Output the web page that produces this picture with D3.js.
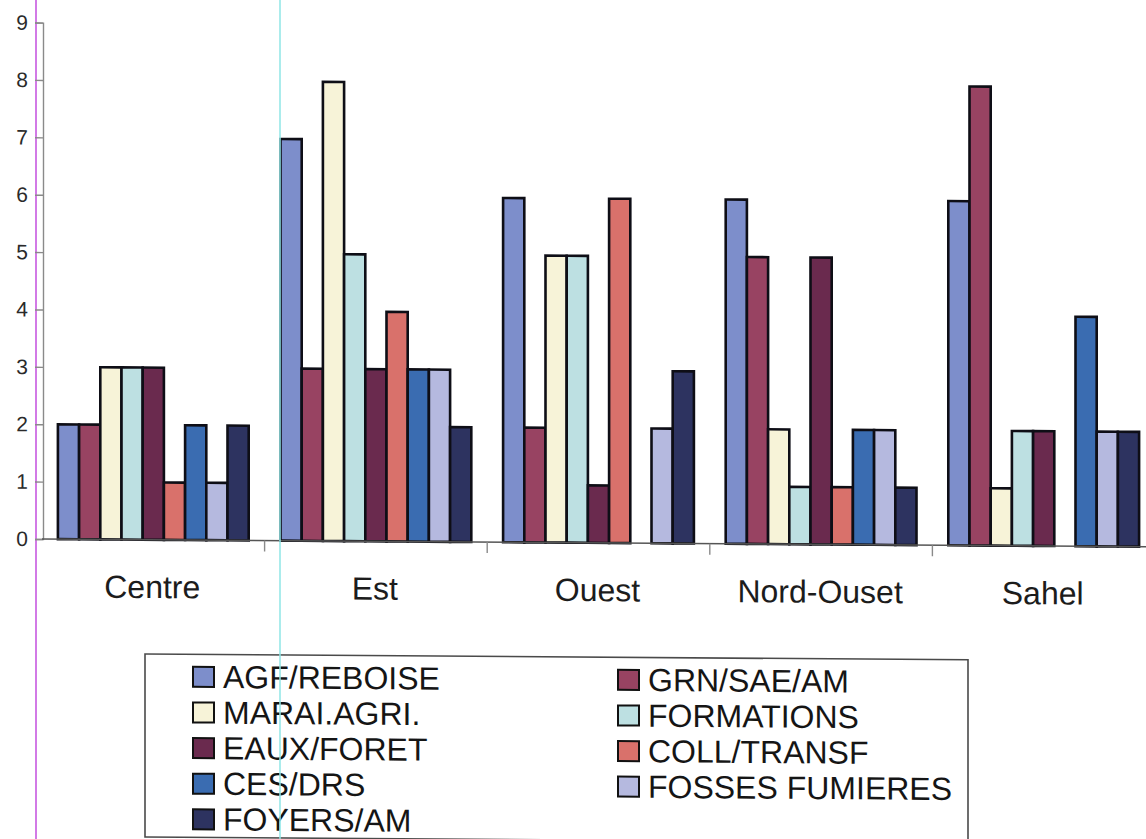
<!DOCTYPE html>
<html>
<head>
<meta charset="utf-8">
<script src="https://cdn.jsdelivr.net/npm/d3@7/dist/d3.min.js"></script>
<style>
  html, body { margin: 0; padding: 0; background: #ffffff; }
  svg { display: block; }
  text { font-family: "Liberation Sans", Arial, sans-serif; }
</style>
</head>
<body>
<svg id="chart" width="1146" height="839"></svg>
<script>
// Regions (x categories)
const categories = ["Centre", "Est", "Ouest", "Nord-Ouset", "Sahel"];

// Activity series, values per region in the order above
const seriesNames = ["AGF/REBOISE", "GRN/SAE/AM", "MARAI.AGRI.", "FORMATIONS", "EAUX/FORET",
                     "COLL/TRANSF", "CES/DRS", "FOSSES FUMIERES", "FOYERS/AM"];
const agfReboise     = [2, 7, 6, 6, 6];
const grnSaeAm       = [2, 3, 2, 5, 8];
const maraiAgri      = [3, 8, 5, 2, 1];
const formations     = [3, 5, 5, 1, 2];
const eauxForet      = [3, 3, 1, 5, 2];
const collTransf     = [1, 4, 6, 1, 0];
const cesDrs         = [2, 3, 0, 2, 4];
const fossesFumieres = [1, 3, 2, 2, 2];
const foyersAm       = [2, 2, 3, 1, 2];

const yTicks = [0, 1, 2, 3, 4, 5, 6, 7, 8, 9];

const seriesValues = [agfReboise, grnSaeAm, maraiAgri, formations, eauxForet,
                      collTransf, cesDrs, fossesFumieres, foyersAm];
const seriesColors = ["#7d8ecb", "#984362", "#f7f3d8", "#bde0e2", "#6a2a4e",
                      "#d9716b", "#3a6cb1", "#b5b9df", "#2d3360"];

const rows = [];
categories.forEach((c, ci) => {
  seriesNames.forEach((s, si) => {
    rows.push({ category: c, series: s, value: seriesValues[si][ci], color: seriesColors[si] });
  });
});

const svg = d3.select("#chart");

// page guide lines
svg.append("line").attr("x1", 36).attr("x2", 36).attr("y1", 0).attr("y2", 839)
  .attr("stroke", "#d27ae6").attr("stroke-width", 2);

// whole chart sits on a slightly tilted sheet
const g = svg.append("g").attr("transform", "skewY(0.4)");

const plotLeft = 42, step = 222.6;
const x0 = d3.scaleBand().domain(categories).range([plotLeft, plotLeft + step * categories.length]).padding(0);
const barW = x0.bandwidth() / 10.5;
const x1 = d3.scaleBand().domain(seriesNames)
  .range([barW * 0.75, x0.bandwidth() - barW * 0.75]).padding(0);
const y = d3.scaleLinear().domain([0, 9]).range([538.7, 22.3]);

// bars
g.append("g").selectAll("rect")
  .data(rows.filter(d => d.value > 0))
  .join("rect")
  .attr("x", d => x0(d.category) + x1(d.series))
  .attr("y", d => y(d.value))
  .attr("width", x1.bandwidth())
  .attr("height", d => y(0) - y(d.value))
  .attr("fill", d => d.color)
  .attr("stroke", "#0e0e16")
  .attr("stroke-width", 2.6);

// y axis
const yAxis = g.append("g").attr("transform", "translate(43,0)")
  .call(d3.axisLeft(y).tickValues(yTicks).tickFormat(d3.format("d")).tickSize(8).tickPadding(7));
yAxis.select(".domain").attr("stroke", "#8a8a8a").attr("stroke-width", 1.4);
yAxis.selectAll(".tick line").attr("stroke", "#8a8a8a").attr("stroke-width", 1.4);
yAxis.selectAll(".tick text").attr("font-size", 21).attr("fill", "#2a2a2a")
  .attr("font-family", "'Liberation Sans', Arial, sans-serif");

// x axis
const xTickPositions = categories.slice(1).map(c => x0(c));
const xAxisG = g.append("g").attr("transform", `translate(0,${y(0)})`);
xAxisG.append("line").attr("x1", plotLeft).attr("x2", 1160).attr("y1", 0).attr("y2", 0)
  .attr("stroke", "#555").attr("stroke-width", 1.6);
xAxisG.selectAll("line.tk").data(xTickPositions).join("line").attr("class", "tk")
  .attr("x1", d => d).attr("x2", d => d).attr("y1", 0).attr("y2", 11)
  .attr("stroke", "#8a8a8a").attr("stroke-width", 1.4);
g.append("g").selectAll("text").data(categories).join("text")
  .attr("x", d => x0(d) + x0.bandwidth() / 2 - 1)
  .attr("y", 597)
  .attr("text-anchor", "middle")
  .attr("font-size", 32)
  .attr("fill", "#1c1c1c")
  .text(d => d);

// legend
const legend = g.append("g");
legend.append("rect").attr("x", 145).attr("y", 653).attr("width", 823).attr("height", 183)
  .attr("fill", "#ffffff").attr("stroke", "#4a4a4a").attr("stroke-width", 1.6);
const items = legend.selectAll("g.item").data(seriesNames).join("g").attr("class", "item")
  .attr("transform", (d, i) => `translate(${i % 2 === 0 ? 193 : 618},${685.5 + Math.floor(i / 2) * 35.6})`);
items.append("rect").attr("x", 0).attr("y", -20).attr("width", 21).attr("height", 20)
  .attr("fill", (d, i) => seriesColors[i]).attr("stroke", "#111").attr("stroke-width", 2);
items.append("text").attr("x", 30).attr("y", 1).attr("font-size", 32).attr("fill", "#151515")
  .text(d => d);

svg.append("line").attr("x1", 280).attr("x2", 280).attr("y1", 0).attr("y2", 839)
  .attr("stroke", "#8fe6e6").attr("stroke-width", 1.5);
</script>
</body>
</html>
